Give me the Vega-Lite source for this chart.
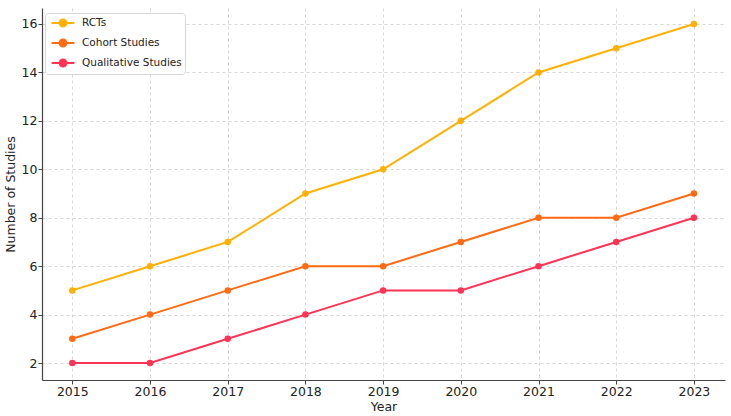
{
  "$schema": "https://vega.github.io/schema/vega-lite/v6.json",
  "width": 683,
  "height": 372,
  "autosize": {"type": "none"},
  "padding": {"left": 42, "top": 8, "right": 6, "bottom": 36},
  "background": "white",
  "config": {
    "view": {"stroke": null},
    "font": "DejaVu Sans",
    "axis": {
      "labelFont": "DejaVu Sans",
      "titleFont": "DejaVu Sans",
      "labelFontSize": 12.5,
      "titleFontSize": 12.5,
      "titleFontWeight": "normal",
      "labelColor": "#222",
      "titleColor": "#222",
      "domainColor": "#444",
      "domainWidth": 1.2,
      "tickColor": "#444",
      "tickSize": 4,
      "gridColor": "#cccccc",
      "gridDash": [3, 3],
      "gridWidth": 0.8
    }
  },
  "data": {
    "values": [
      {"Year": 2015, "Type": "RCTs", "Studies": 5},
      {"Year": 2016, "Type": "RCTs", "Studies": 6},
      {"Year": 2017, "Type": "RCTs", "Studies": 7},
      {"Year": 2018, "Type": "RCTs", "Studies": 9},
      {"Year": 2019, "Type": "RCTs", "Studies": 10},
      {"Year": 2020, "Type": "RCTs", "Studies": 12},
      {"Year": 2021, "Type": "RCTs", "Studies": 14},
      {"Year": 2022, "Type": "RCTs", "Studies": 15},
      {"Year": 2023, "Type": "RCTs", "Studies": 16},
      {"Year": 2015, "Type": "Cohort Studies", "Studies": 3},
      {"Year": 2016, "Type": "Cohort Studies", "Studies": 4},
      {"Year": 2017, "Type": "Cohort Studies", "Studies": 5},
      {"Year": 2018, "Type": "Cohort Studies", "Studies": 6},
      {"Year": 2019, "Type": "Cohort Studies", "Studies": 6},
      {"Year": 2020, "Type": "Cohort Studies", "Studies": 7},
      {"Year": 2021, "Type": "Cohort Studies", "Studies": 8},
      {"Year": 2022, "Type": "Cohort Studies", "Studies": 8},
      {"Year": 2023, "Type": "Cohort Studies", "Studies": 9},
      {"Year": 2015, "Type": "Qualitative Studies", "Studies": 2},
      {"Year": 2016, "Type": "Qualitative Studies", "Studies": 2},
      {"Year": 2017, "Type": "Qualitative Studies", "Studies": 3},
      {"Year": 2018, "Type": "Qualitative Studies", "Studies": 4},
      {"Year": 2019, "Type": "Qualitative Studies", "Studies": 5},
      {"Year": 2020, "Type": "Qualitative Studies", "Studies": 5},
      {"Year": 2021, "Type": "Qualitative Studies", "Studies": 6},
      {"Year": 2022, "Type": "Qualitative Studies", "Studies": 7},
      {"Year": 2023, "Type": "Qualitative Studies", "Studies": 8}
    ]
  },
  "mark": {
    "type": "line",
    "strokeWidth": 2,
    "point": {"filled": true, "size": 42}
  },
  "encoding": {
    "x": {
      "field": "Year",
      "type": "quantitative",
      "title": "Year",
      "scale": {"domain": [2014.61, 2023.4], "nice": false, "zero": false},
      "axis": {
        "values": [2015, 2016, 2017, 2018, 2019, 2020, 2021, 2022, 2023],
        "format": "d",
        "titlePadding": 3,
        "labelPadding": 1
      }
    },
    "y": {
      "field": "Studies",
      "type": "quantitative",
      "title": "Number of Studies",
      "scale": {"domain": [1.3, 16.66], "nice": false, "zero": false},
      "axis": {
        "values": [2, 4, 6, 8, 10, 12, 14, 16],
        "titlePadding": 4,
        "labelPadding": 1
      }
    },
    "color": {
      "field": "Type",
      "type": "nominal",
      "sort": ["RCTs", "Cohort Studies", "Qualitative Studies"],
      "scale": {
        "domain": ["RCTs", "Cohort Studies", "Qualitative Studies"],
        "range": ["#FFB000", "#FF6A13", "#FF3355"]
      },
      "legend": {
        "title": null,
        "orient": "none",
        "legendX": 3,
        "legendY": 5,
        "padding": 3,
        "fillColor": "white",
        "strokeColor": "#d6d6d6",
        "cornerRadius": 3,
        "labelFont": "DejaVu Sans",
        "labelFontSize": 10.5,
        "labelColor": "#222",
        "rowPadding": 4,
        "symbolType": "M-2,0H2M-0.6,0A0.6,0.6 0 1,0 0.6,0A0.6,0.6 0 1,0 -0.6,0Z",
        "symbolSize": 130,
        "symbolOffset": 8,
        "symbolStrokeWidth": 2,
        "labelOffset": 12
      }
    }
  }
}
